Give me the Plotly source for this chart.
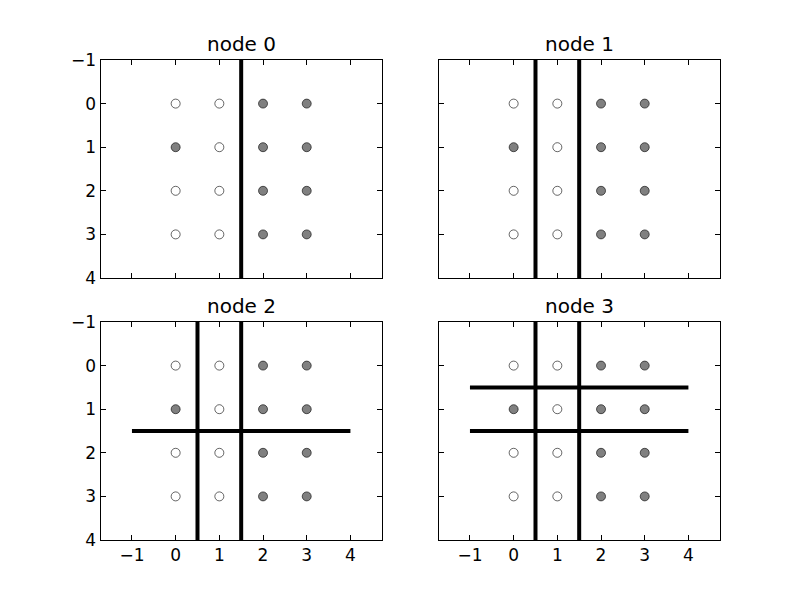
import plotly.graph_objects as go

# Data
grid_x = [0, 1, 2, 3, 0, 1, 2, 3, 0, 1, 2, 3, 0, 1, 2, 3]
grid_y = [0, 0, 0, 0, 1, 1, 1, 1, 2, 2, 2, 2, 3, 3, 3, 3]
grid_filled = [0, 0, 1, 1, 1, 0, 1, 1, 0, 0, 1, 1, 0, 0, 1, 1]

titles = ["node 0", "node 1", "node 2", "node 3"]
vsplits = [[1.5], [0.5, 1.5], [0.5, 1.5], [0.5, 1.5]]
hsplits = [[], [], [1.5], [0.5, 1.5]]
line_span = [-1, 4]

x_ticks = [-1, 0, 1, 2, 3, 4]
y_ticks = [-1, 0, 1, 2, 3, 4]

# page body has an 8px margin; compensate
OFF = 8
W, H = 800 - OFF, 600 - OFF


def px_x(p):
    return (p - OFF) / W


def px_y(p):
    return 1 - (p - OFF) / H


xdoms = [[px_x(100.5), px_x(382.3)], [px_x(438.5), px_x(720.3)]]
ydoms = [[px_y(278), px_y(60)], [px_y(540), px_y(322)]]
xrange_ = [-1.72, 4.73]
yrange_ = [4, -1]

fig = go.Figure()
colors = ["#808080" if f else "#ffffff" for f in grid_filled]

for i in range(4):
    r, c = divmod(i, 2)
    sfx = "" if i == 0 else str(i + 1)
    xa, ya = "x" + sfx, "y" + sfx
    for v in vsplits[i]:
        fig.add_trace(go.Scatter(x=[v, v], y=line_span, mode="lines",
                                 line=dict(color="black", width=4),
                                 xaxis=xa, yaxis=ya, showlegend=False, hoverinfo="skip"))
    for h in hsplits[i]:
        fig.add_trace(go.Scatter(x=line_span, y=[h, h], mode="lines",
                                 line=dict(color="black", width=4),
                                 xaxis=xa, yaxis=ya, showlegend=False, hoverinfo="skip"))
    fig.add_trace(go.Scatter(x=grid_x, y=grid_y, mode="markers",
                             marker=dict(size=9, color=colors,
                                         line=dict(color="black", width=0.6)),
                             xaxis=xa, yaxis=ya, showlegend=False))
    common = dict(showline=True, linecolor="black", linewidth=1, mirror="ticks",
                  ticks="inside", ticklen=5, tickwidth=1, tickcolor="black",
                  showgrid=False, zeroline=False, automargin=False,
                  tickfont=dict(family="DejaVu Sans", size=17, color="black"))
    fig.layout["xaxis" + sfx] = dict(common, domain=xdoms[c], range=xrange_,
                                     tickvals=x_ticks, showticklabels=(r == 1),
                                     anchor=ya)
    fig.layout["yaxis" + sfx] = dict(common, domain=ydoms[r], range=yrange_,
                                     tickvals=y_ticks, showticklabels=(c == 0),
                                     anchor=xa)
    fig.add_annotation(text=titles[i], xref="paper", yref="paper",
                       x=(xdoms[c][0] + xdoms[c][1]) / 2, y=ydoms[r][1],
                       xanchor="center", yanchor="bottom", yshift=2, showarrow=False,
                       font=dict(family="DejaVu Sans", size=20, color="black"))

fig.update_layout(width=W, height=H,
                  margin=dict(l=0, r=0, t=0, b=0, pad=0, autoexpand=False),
                  paper_bgcolor="white", plot_bgcolor="white")
fig.write_html("out.html")
